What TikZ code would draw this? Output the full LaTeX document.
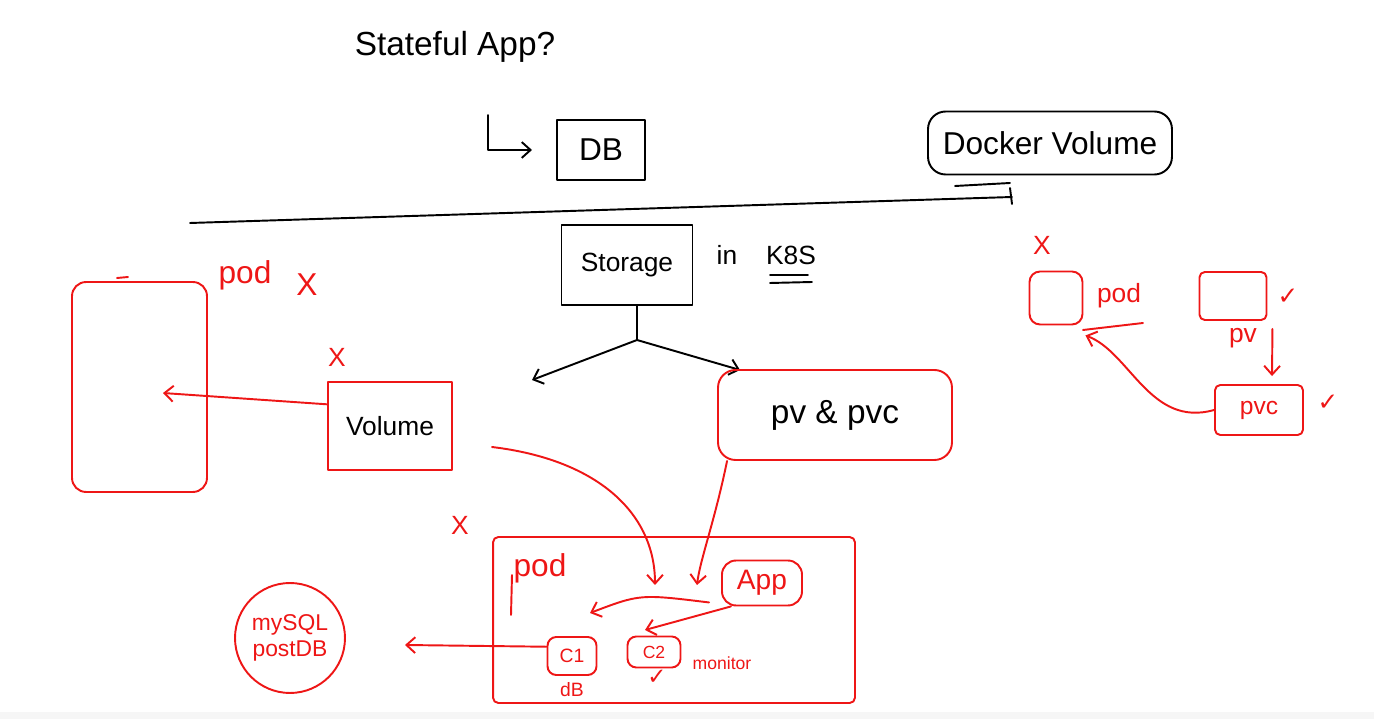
\documentclass[tikz,border=0pt]{standalone}
\usepackage{fontspec}
\setmainfont{Liberation Sans}
\newfontfamily\symfont{DejaVu Sans}
\usetikzlibrary{arrows.meta,calc}
\definecolor{inkred}{RGB}{238,22,22}
\begin{document}
\begin{tikzpicture}[x=0.02cm,y=-0.02cm,
  ink/.style={line width=1.1pt, line cap=round, line join=round},
  blackbox/.style={draw=black, ink, inner sep=0pt},
  redbox/.style={draw=inkred, ink, inner sep=0pt},
  redtext/.style={text=inkred, inner sep=0pt},
  blacktext/.style={text=black, inner sep=0pt},
  blackline/.style={draw=black, ink},
  redline/.style={draw=inkred, ink},
  tip/.style={-{Straight Barb[length=5pt,width=9pt]}},
  fs/.style={font=\fontsize{#1}{#1}\selectfont}
]
\useasboundingbox (0,0) rectangle (1374,719);
\fill[gray!7] (0,712) rectangle (1374,719);

% ---------- top (black) ----------
\node[blacktext, fs=19] (title) at (455,47) {Stateful App?};
\node[blackbox, minimum width=1.76cm, minimum height=1.2cm, fs=18] (db) at (601,150) {DB};
\coordinate (Ltop) at (488,115);
\coordinate (Lend) at (532,150);
\draw[blackline, tip] (Ltop) |- (Lend);

\node[blackbox, rounded corners=10pt, minimum width=4.88cm, minimum height=1.26cm, fs=18] (docker) at (1050,143) {Docker Volume};
\draw[blackline] (955,186) -- (1010,183);
\coordinate (sepL) at (190,223);
\coordinate (sepR) at (1012,197);
\draw[blackline] (sepL) -- (sepR);
\draw[blackline] (1010,188) -- (1012,204);

\node[blackbox, minimum width=2.62cm, minimum height=1.6cm, fs=15] (storage) at (627,265) {Storage};
\node[blacktext, fs=15] (inword) at (727,255) {in};
\node[blacktext, fs=15] (k8s) at (791,255) {K8S};
\draw[blackline] (770,275) -- (808,275);
\draw[blackline] (770,283) -- (812,282);
\coordinate (fork) at (637,340);
\coordinate (brL) at (532,380);
\coordinate (brR) at (740,370);
\draw[blackline] (storage.south -| fork) -- (fork);
\draw[blackline, tip] (fork) -- (brL);
\draw[blackline, tip] (fork) -- (brR);

% ---------- left: pod + volume ----------
\node[redbox, rounded corners=8pt, minimum width=2.7cm, minimum height=4.2cm] (podL) at (139.5,387) {};
\draw[redline] (117,278) -- (128,277);
\node[redtext, fs=18] (podLlabel) at (245,275) {pod};
\node[redtext, fs=18] (xA) at (307,285) {X};
\node[redtext, fs=15] (xB) at (337,357) {X};
\node[redbox, minimum width=2.48cm, minimum height=1.76cm, fs=15, text=black] (volume) at (390,426) {Volume};
\coordinate (podin) at (163,393);
\draw[redline, tip] (volume.161) -- (podin);

% ---------- pv & pvc ----------
\node[redbox, rounded corners=10pt, minimum width=4.68cm, minimum height=1.8cm, fs=19, text=black] (pvpvc) at (835,415) {pv \& pvc};
\coordinate (cstart) at (492,447);
\coordinate (tipA) at (655,585);
\coordinate (tipB) at (697,585);
\draw[redline, tip] (cstart) .. controls (600,460) and (655,515) .. (tipA);
\draw[redline, tip] ($(pvpvc.south west)+(10,0)$) .. controls (715,520) and (700,560) .. (tipB);

% ---------- big pod ----------
\node[redbox, rounded corners=3pt, minimum width=7.24cm, minimum height=3.32cm] (podB) at (674,620) {};
\node[redtext, fs=18] (podBlabel) at (540,568) {pod};
\draw[redline] (512,575) -- (511,615);
\node[redtext, fs=15] (xC) at (460,525) {X};
\node[redbox, rounded corners=8pt, minimum width=1.6cm, minimum height=0.9cm, fs=16, text=inkred] (app) at (762,583) {App};
\node[redbox, rounded corners=5pt, minimum width=0.98cm, minimum height=0.76cm, fs=11, text=inkred] (c1) at (572,656) {C1};
\node[redbox, rounded corners=5pt, minimum width=1.06cm, minimum height=0.62cm, fs=10, text=inkred] (c2) at (654,652) {C2};
\node[redtext, fs=11] (dblabel) at (572,690) {dB};
\node[redtext, font=\symfont\fontsize{13}{13}\selectfont] (chkc2) at (657,677) {✓};
\node[redtext, fs=10] (monitor) at (722,663) {monitor};
\coordinate (c1tip) at (590,613);
\coordinate (c2tip) at (645,630);
\draw[redline, tip] ($(app.south west)+(-12,-4)$) .. controls (640,594) .. (c1tip);
\draw[redline, tip] (app.217) -- (c2tip);

% ---------- database circle ----------
\node[redbox, circle, minimum size=2.2cm, align=center, fs=13, text=inkred] (dbcircle) at (290,638) {mySQL\\[2pt]postDB};
\coordinate (dbtip) at (405,645);
\draw[redline, tip] (c1.160) -- (dbtip);

% ---------- right side ----------
\node[redtext, fs=15] (xD) at (1042,245) {X};
\node[redbox, rounded corners=6pt, minimum width=1.06cm, minimum height=1.06cm] (podR) at (1056,298) {};
\node[redtext, fs=15] (podRlabel) at (1119,296) {pod};
\draw[redline] (1083,330) -- (1143,323);
\node[redbox, rounded corners=3pt, minimum width=1.34cm, minimum height=0.96cm] (pvR) at (1233,296) {};
\node[redtext, font=\symfont\fontsize{14}{14}\selectfont] (chk1) at (1288,297) {✓};
\node[redtext, fs=15] (pvlabel) at (1243,338) {pv};
\node[redbox, rounded corners=3pt, minimum width=1.76cm, minimum height=1.0cm, fs=14, text=inkred] (pvc) at (1259,410) {pvc};
\node[redtext, font=\symfont\fontsize{14}{14}\selectfont] (chk2) at (1328,403) {✓};
\draw[redline, tip] ($(pvR.south east)+(5,8)$) -- ($(pvc.north)+(13,-8)$);
\draw[redline, tip] (pvc.west) .. controls (1150,428) and (1130,352) .. ($(podR.south east)+(2,10)$);
\end{tikzpicture}
\end{document}
